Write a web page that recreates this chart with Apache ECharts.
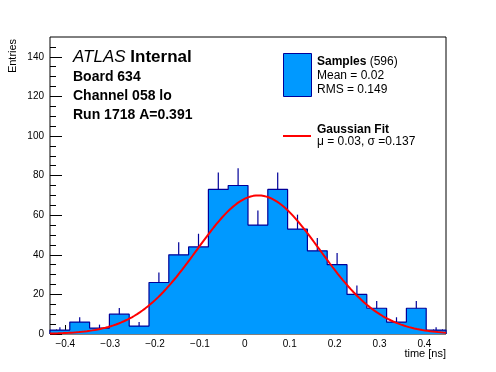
<!DOCTYPE html>
<html><head><meta charset="utf-8">
<script src="https://cdn.jsdelivr.net/npm/echarts@6/dist/echarts.min.js"></script>
<style>html,body{margin:0;padding:0;background:#fff}#c{width:496px;height:372px}</style>
</head><body><div id="c"></div>
<script>
// ---- data ----
const xMin = -0.434, xMax = 0.448, nBins = 20;
const counts = [2, 6, 3, 10, 4, 26, 40, 44, 73, 75, 55, 73, 53, 42, 35, 20, 13, 6, 13, 2];
const fitMu = 0.03, fitSigma = 0.137, fitAmp = 70;
const xMajorTicks = [-0.4, -0.3, -0.2, -0.1, 0, 0.1, 0.2, 0.3, 0.4];
const yMajorTicks = [0, 20, 40, 60, 80, 100, 120, 140];
const yMin = 0, yMax = 150;
const xMinorTicks = [];
for (let k = -21; k <= 22; k++) xMinorTicks.push(Math.round(k * 2) / 100);
const yMinorTicks = [];
for (let k = 0; k <= 29; k++) yMinorTicks.push(k * 5);

const FILL = '#0099ff', EDGE = '#000099', FONT = '"Liberation Sans", Arial, Helvetica, sans-serif';

// ---- derived ----
const binW = (xMax - xMin) / nBins;
const binData = counts.map((v, i) => {
  const x0 = xMin + i * binW, x1 = x0 + binW;
  return [(x0 + x1) / 2, v, x0, x1];
});
const outline = [[xMin, 0]];
counts.forEach((v, i) => outline.push([xMin + i * binW, v]));
outline.push([xMax, counts[nBins - 1]]);
outline.push([xMax, 0]);
const fitData = [];
for (let i = 0; i <= 300; i++) {
  const x = xMin + (xMax - xMin) * i / 300;
  fitData.push([x, fitAmp * Math.exp(-0.5 * Math.pow((x - fitMu) / fitSigma, 2))]);
}
const fmtX = v => {
  if (Math.abs(v) < 1e-9) return '0';
  const s = v.toFixed(1);
  return s.replace('-', '\u2212');
};

const chart = echarts.init(document.getElementById('c'), null, {renderer: 'canvas'});
const baseX = {
  type: 'value', min: xMin, max: xMax, position: 'bottom', offset: 0,
  splitLine: {show: false}, axisLine: {show: false, onZero: false}
};
const baseY = {
  type: 'value', min: yMin, max: yMax, position: 'left', offset: 0,
  splitLine: {show: false}, axisLine: {show: false, onZero: false}
};
chart.setOption({
  animation: false,
  backgroundColor: '#fff',
  grid: {left: 50, right: 50, top: 37, bottom: 38, show: true, borderColor: '#000', borderWidth: 1, backgroundColor: 'transparent'},
  xAxis: [
    Object.assign({}, baseX, {
      axisTick: {show: true, inside: true, length: 9, customValues: xMajorTicks, lineStyle: {color: '#000'}},
      axisLabel: {show: true, customValues: xMajorTicks, formatter: fmtX, color: '#000', fontSize: 10, fontFamily: FONT, margin: 5}
    }),
    Object.assign({}, baseX, {
      axisTick: {show: true, inside: true, length: 4.5, customValues: xMinorTicks, lineStyle: {color: '#000'}},
      axisLabel: {show: false}
    })
  ],
  yAxis: [
    Object.assign({}, baseY, {
      axisTick: {show: true, inside: true, length: 12, customValues: yMajorTicks, lineStyle: {color: '#000'}},
      axisLabel: {show: true, customValues: yMajorTicks, color: '#000', fontSize: 10, fontFamily: FONT, margin: 6}
    }),
    Object.assign({}, baseY, {
      axisTick: {show: true, inside: true, length: 6, customValues: yMinorTicks, lineStyle: {color: '#000'}},
      axisLabel: {show: false}
    })
  ],
  series: [
    {
      type: 'line', xAxisIndex: 0, yAxisIndex: 0, z: 3, step: 'end', data: outline,
      symbol: 'none', showSymbol: false, lineStyle: {color: EDGE, width: 1.2},
      areaStyle: {color: FILL, opacity: 1, origin: 'start'}, silent: true
    },
    {
      type: 'custom', xAxisIndex: 0, yAxisIndex: 0, z: 3,
      data: binData, encode: {x: 0, y: 1},
      renderItem: (params, api) => {
        const c = api.value(0), v = api.value(1);
        const p0 = api.coord([c, v]);
        const p1 = api.coord([c, v + Math.sqrt(v)]);
        return {type: 'line', shape: {x1: p0[0], y1: p0[1], x2: p1[0], y2: p1[1]},
          style: {stroke: EDGE, lineWidth: 1.2}};
      }
    },
    {
      type: 'line', xAxisIndex: 0, yAxisIndex: 0, z: 4, data: fitData,
      symbol: 'none', showSymbol: false, smooth: false, lineStyle: {color: '#ff0000', width: 2}, silent: true
    }
  ],
  graphic: [
    {type: 'text', rotation: Math.PI / 2, x: 13, y: 56,
      style: {text: 'Entries', font: '11px ' + FONT, fill: '#000', textAlign: 'center', textVerticalAlign: 'middle'}},
    {type: 'text', x: 446, y: 354,
      style: {text: 'time [ns]', font: '11px ' + FONT, fill: '#000', textAlign: 'right', textVerticalAlign: 'middle'}},
    {type: 'text', x: 73, y: 57,
      style: {text: '{a|ATLAS} {b|Internal}', fontSize: 17, fontFamily: FONT, fill: '#000', textVerticalAlign: 'middle',
        rich: {a: {fontStyle: 'italic', fontSize: 17, fontFamily: FONT, fill: '#000'},
               b: {fontWeight: 'bold', fontSize: 17, fontFamily: FONT, fill: '#000'}}}},
    {type: 'text', x: 73, y: 77, style: {text: 'Board 634', font: 'bold 14px ' + FONT, fill: '#000', textVerticalAlign: 'middle'}},
    {type: 'text', x: 73, y: 96, style: {text: 'Channel 058 lo', font: 'bold 14px ' + FONT, fill: '#000', textVerticalAlign: 'middle'}},
    {type: 'text', x: 73, y: 115, style: {text: 'Run 1718 A=0.391', font: 'bold 14px ' + FONT, fill: '#000', textVerticalAlign: 'middle'}},
    {type: 'rect', shape: {x: 283.5, y: 53.5, width: 28, height: 43}, style: {fill: FILL, stroke: EDGE, lineWidth: 1}},
    {type: 'text', x: 317, y: 62,
      style: {text: '{b|Samples} (596)', fontSize: 12, fontFamily: FONT, fill: '#000', textVerticalAlign: 'middle',
        rich: {b: {fontWeight: 'bold', fontSize: 12, fontFamily: FONT, fill: '#000'}}}},
    {type: 'text', x: 317, y: 76, style: {text: 'Mean = 0.02', font: '12px ' + FONT, fill: '#000', textVerticalAlign: 'middle'}},
    {type: 'text', x: 317, y: 90, style: {text: 'RMS = 0.149', font: '12px ' + FONT, fill: '#000', textVerticalAlign: 'middle'}},
    {type: 'line', shape: {x1: 283, y1: 136, x2: 311, y2: 136}, style: {stroke: '#ff0000', lineWidth: 2}},
    {type: 'text', x: 317, y: 129.5, style: {text: 'Gaussian Fit', font: 'bold 12px ' + FONT, fill: '#000', textVerticalAlign: 'middle'}},
    {type: 'text', x: 317, y: 142, style: {text: '\u03bc = 0.03, \u03c3 =0.137', font: '12px ' + FONT, fill: '#000', textVerticalAlign: 'middle'}}
  ]
});
</script>
</body></html>
